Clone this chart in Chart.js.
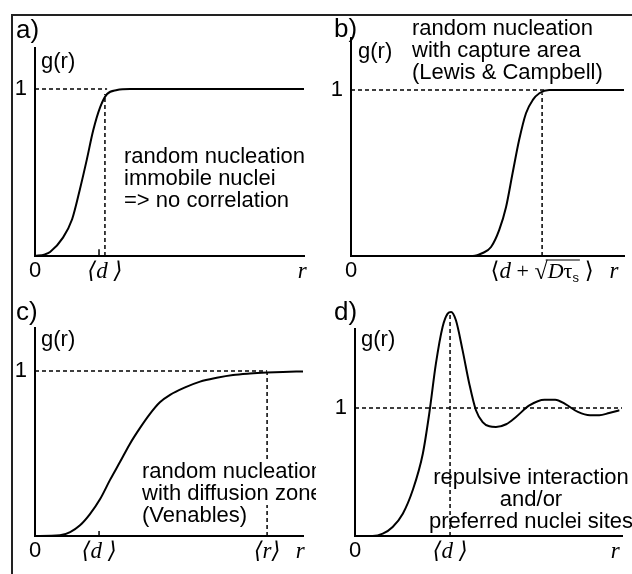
<!DOCTYPE html>
<html>
<head>
<meta charset="utf-8">
<script src="https://cdn.jsdelivr.net/npm/chart.js@4.4.1/dist/chart.umd.min.js"></script>
<style>
  html, body { margin: 0; padding: 0; background: #fff; }
  #wrap { position: relative; width: 632px; height: 574px; overflow: hidden; }
  #wrap canvas { position: absolute; left: 0; top: 0; }
  #frame { position: absolute; left: 11px; top: 14px; width: 660px; height: 600px;
           border-top: 2px solid #222; border-left: 2px solid #222; }
</style>
</head>
<body>
<div id="wrap">
  <div id="frame"></div>
  <canvas id="panelA" width="632" height="574"></canvas>
  <canvas id="panelB" width="632" height="574"></canvas>
  <canvas id="panelC" width="632" height="574"></canvas>
  <canvas id="panelD" width="632" height="574"></canvas>
</div>
<script>
// ---- data (r in arbitrary units 0..10, g(r) in units of 1) ----

// a) random nucleation, immobile nuclei
var aR = [0, 0.37, 0.56, 1.04, 1.38, 1.67, 1.93, 2.16, 2.42, 2.68, 3.05, 3.53, 10];
var aG = [0, 0.01, 0.024, 0.11, 0.22, 0.4, 0.58, 0.75, 0.89, 0.97, 0.994, 1, 1];
var aXTicks = [0, 2.6, 9.93];
var aXLabels = ['0', '\u27E8d \u27E9', 'r'];
var aD = 2.6, aDTop = 0.97, aHEnd = 2.68, aMark = 2.38;

// b) random nucleation with capture area
var bR = [0, 4.46, 4.82, 5.13, 5.43, 5.68, 5.92, 6.16, 6.41, 6.66, 6.90, 7.26, 10];
var bG = [0, 0, 0.018, 0.054, 0.157, 0.295, 0.5, 0.7, 0.86, 0.94, 0.98, 1, 1];
var bXTicks = [0, 7.0, 9.63];
var bXLabels = ['0', '', 'r'];
var bD = 7.0, bDTop = 0.98, bHEnd = 7.15;

// c) random nucleation with diffusion zone
var cR = [0, 0.93, 1.31, 1.68, 2.05, 2.43, 2.80, 3.17, 3.54, 3.92, 4.29, 4.66, 5.04, 5.60, 6.16, 6.78, 7.39, 8.02, 8.65, 9.25, 10];
var cG = [0, 0.004, 0.024, 0.065, 0.133, 0.224, 0.34, 0.448, 0.558, 0.655, 0.74, 0.81, 0.855, 0.9, 0.935, 0.958, 0.975, 0.984, 0.99, 0.994, 0.997];
var cXTicks = [0, 2.39, 8.66, 9.9];
var cXLabels = ['0', '\u27E8d \u27E9', '\u27E8r\u27E9', 'r'];
var cD = 2.39, cRMean = 8.66, cRTop = 0.99;

// d) repulsive interaction
var dR = [0, 0.66, 1.04, 1.41, 1.79, 2.16, 2.54, 2.78, 3.03, 3.28, 3.47, 3.60, 3.78, 4.03, 4.28, 4.53, 4.78, 5.03, 5.28, 5.66, 6.03, 6.53, 7.10, 7.50, 7.88, 8.35, 8.80, 9.15, 9.52, 9.90];
var dG = [0, 0, 0.018, 0.07, 0.174, 0.357, 0.643, 0.955, 1.346, 1.633, 1.737, 1.75, 1.685, 1.45, 1.19, 0.982, 0.89, 0.857, 0.852, 0.873, 0.93, 1.02, 1.065, 1.065, 1.03, 0.969, 0.943, 0.943, 0.961, 0.982];
var dXTicks = [0, 3.56, 9.75];
var dXLabels = ['0', '\u27E8d \u27E9', 'r'];
var dD = 3.56, dDTop = 1.75;

var yTicks = [1];
var yLabels = ['1'];

var aText = ['random nucleation', 'immobile nuclei', '=> no correlation'];
var bText = ['random nucleation', 'with capture area', '(Lewis & Campbell)'];
var cText = ['random nucleation', 'with diffusion zone', '(Venables)'];
var dText = ['repulsive interaction', 'and/or', 'preferred nuclei sites'];

// ---- helpers ----
var SANS = '"Liberation Sans", Arial, sans-serif';
var SERIF = '"Liberation Serif", "DejaVu Serif", serif';
var AXIS_W = 30, AXIS_H = 34;

function pts(xs, ys) {
    return xs.map(function (x, i) { return { x: x, y: ys[i] }; });
}

function curveSet(xs, ys) {
    return {
        data: pts(xs, ys),
        borderColor: '#000',
        borderWidth: 2,
        pointRadius: 0,
        cubicInterpolationMode: 'monotone',
        clip: false
    };
}

function guideSet(data, solid) {
    return {
        data: data,
        borderColor: '#000',
        borderWidth: 1.5,
        borderDash: solid ? [] : [4, 3],
        pointRadius: 0,
        tension: 0,
        clip: false
    };
}

function textPlugin(items, clipRect, formula) {
    return {
        id: 'panelText',
        afterDraw: function (chart) {
            var ctx = chart.ctx;
            ctx.save();
            if (clipRect) {
                ctx.beginPath();
                ctx.rect(clipRect[0], clipRect[1], clipRect[2], clipRect[3]);
                ctx.clip();
            }
            ctx.textBaseline = 'alphabetic';
            items.forEach(function (it) {
                ctx.font = it.font;
                ctx.textAlign = it.align || 'left';
                if (it.bg) {
                    var w = ctx.measureText(it.text).width;
                    var x0 = it.align === 'center' ? it.x - w / 2 : it.x;
                    ctx.fillStyle = '#fff';
                    ctx.fillRect(x0 - 2, it.y - 19, w + 4, 24);
                }
                ctx.fillStyle = '#000';
                ctx.fillText(it.text, it.x, it.y);
            });
            if (formula) {
                drawFormula(ctx, chart.scales.x.getPixelForValue(formula.value), chart.chartArea.bottom + 22);
            }
            ctx.restore();
        }
    };
}

// <d + sqrt(D tau_s)>
function drawFormula(ctx, cx, y) {
    var parts = [
        { t: '\u27E8', f: '23px ' + SERIF, dy: 0 },
        { t: 'd', f: 'italic 23px ' + SERIF, dy: 0 },
        { t: ' + ', f: '22px ' + SERIF, dy: 0 },
        { t: '\u221A', f: '24px ' + SERIF, dy: 1 },
        { t: 'D', f: 'italic 22px ' + SERIF, dy: 0 },
        { t: '\u03C4', f: '22px ' + SERIF, dy: 0 },
        { t: 's', f: '13px ' + SANS, dy: 4 },
        { t: ' \u27E9', f: '23px ' + SERIF, dy: 0 }
    ];
    var total = 0;
    parts.forEach(function (p) { ctx.font = p.f; p.w = ctx.measureText(p.t).width; total += p.w; });
    var x = cx - total / 2;
    var barStart = 0, barEnd = 0;
    ctx.textAlign = 'left';
    ctx.fillStyle = '#000';
    parts.forEach(function (p, i) {
        ctx.font = p.f;
        ctx.fillText(p.t, x, y + p.dy);
        if (i === 3) barStart = x + p.w * 0.85;
        if (i === 6) barEnd = x + p.w + 1;
        x += p.w;
    });
    ctx.strokeStyle = '#000';
    ctx.lineWidth = 1.2;
    ctx.beginPath();
    ctx.moveTo(barStart, y - 18);
    ctx.lineTo(barEnd, y - 18);
    ctx.stroke();
}

function makePanel(id, box, yMax, xTicks, xLabels, datasets, plugin) {
    var ctx = document.getElementById(id).getContext('2d');
    return new Chart(ctx, {
        type: 'line',
        data: { datasets: datasets },
        plugins: [plugin],
        options: {
            responsive: false,
            animation: false,
            devicePixelRatio: 1,
            layout: { padding: { left: box[0] - AXIS_W, top: box[1], right: 632 - box[2], bottom: 574 - box[3] - AXIS_H } },
            plugins: { legend: { display: false }, tooltip: { enabled: false } },
            scales: {
                x: {
                    type: 'linear', min: 0, max: 10,
                    grid: { display: false, drawTicks: false },
                    border: { display: true, color: '#000', width: 2 },
                    afterBuildTicks: function (s) { s.ticks = xTicks.map(function (v) { return { value: v }; }); },
                    afterFit: function (s) { s.height = AXIS_H; s.paddingLeft = 0; s.paddingRight = 0; },
                    ticks: {
                        autoSkip: false, maxRotation: 0, minRotation: 0, padding: 2, color: '#000',
                        callback: function (v, i) { return xLabels[i]; },
                        font: function (c) {
                            if (c.tick && c.tick.value === 0) return { family: SANS, size: 22 };
                            return { family: SERIF, size: 23, style: 'italic' };
                        }
                    }
                },
                y: {
                    type: 'linear', min: 0, max: yMax,
                    grid: { display: false, drawTicks: false },
                    border: { display: true, color: '#000', width: 2 },
                    afterBuildTicks: function (s) { s.ticks = yTicks.map(function (v) { return { value: v }; }); },
                    afterFit: function (s) { s.width = AXIS_W; s.paddingTop = 0; s.paddingBottom = 0; },
                    ticks: {
                        padding: 8, color: '#000',
                        font: { family: SANS, size: 22 },
                        callback: function (v, i) { return yLabels[i]; }
                    }
                }
            }
        }
    });
}

function lines(txt, x, y0, step, align, bg) {
    return txt.map(function (t, i) {
        return { text: t, x: x, y: y0 + i * step, font: '22px ' + SANS, align: align, bg: bg };
    });
}

// ---- panel a ----
makePanel('panelA', [35, 48, 304, 256], 1.2455, aXTicks, aXLabels, [
    curveSet(aR, aG),
    guideSet([{ x: 0, y: 1 }, { x: aHEnd, y: 1 }]),
    guideSet([{ x: aD, y: 0 }, { x: aD, y: aDTop }]),
    guideSet([{ x: aMark, y: 0 }, { x: aMark, y: 0.04 }], true)
], textPlugin([
    { text: 'a)', x: 16, y: 38, font: '26px ' + SANS },
    { text: 'g(r)', x: 41, y: 68, font: '22px ' + SANS }
].concat(lines(aText, 124, 163, 22))));

// ---- panel b ----
makePanel('panelB', [351, 38, 624, 256], 1.313, bXTicks, bXLabels, [
    curveSet(bR, bG),
    guideSet([{ x: 0, y: 1 }, { x: bHEnd, y: 1 }]),
    guideSet([{ x: bD, y: 0 }, { x: bD, y: bDTop }])
], textPlugin([
    { text: 'b)', x: 334, y: 37, font: '26px ' + SANS },
    { text: 'g(r)', x: 358, y: 58, font: '22px ' + SANS }
].concat(lines(bText, 412, 35, 22)), null, { value: bD }));

// ---- panel c ----
makePanel('panelC', [35, 328, 303, 536], 1.26, cXTicks, cXLabels, [
    curveSet(cR, cG),
    guideSet([{ x: 0, y: 1 }, { x: cRMean, y: 1 }]),
    guideSet([{ x: cRMean, y: 0 }, { x: cRMean, y: cRTop }]),
    guideSet([{ x: cD, y: 0 }, { x: cD, y: 0.03 }], true)
], textPlugin([
    { text: 'c)', x: 16, y: 320, font: '26px ' + SANS },
    { text: 'g(r)', x: 41, y: 346, font: '22px ' + SANS }
].concat(lines(cText, 142, 478, 22, 'left', true)), [0, 0, 316, 574]));

// ---- panel d ----
makePanel('panelD', [355, 329, 622, 536], 1.617, dXTicks, dXLabels, [
    curveSet(dR, dG),
    guideSet([{ x: 0, y: 1 }, { x: 10, y: 1 }]),
    guideSet([{ x: dD, y: 0 }, { x: dD, y: dDTop }])
], textPlugin([
    { text: 'd)', x: 334, y: 320, font: '26px ' + SANS },
    { text: 'g(r)', x: 361, y: 346, font: '22px ' + SANS }
].concat(lines(dText, 531, 484, 22, 'center'))));
</script>
</body>
</html>
